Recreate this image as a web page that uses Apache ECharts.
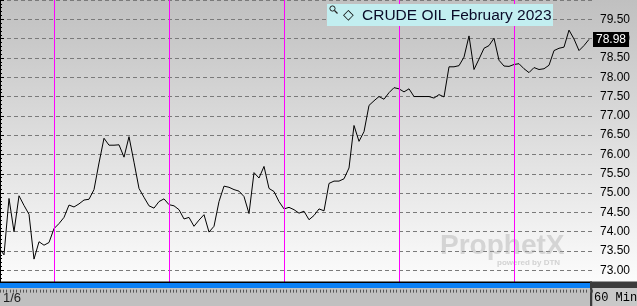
<!DOCTYPE html>
<html>
<head>
<meta charset="utf-8">
<script src="https://cdn.jsdelivr.net/npm/echarts@6/dist/echarts.min.js"></script>
<style>
html,body{margin:0;padding:0;background:#fff;}
#chart{width:637px;height:306px;}
</style>
</head>
<body>
<div id="chart"></div>
<script>
// 60-minute closes, CRUDE OIL February 2023
var prices = [
  73.58, 73.40, 74.86, 74.00, 74.93, 74.68, 74.45, 73.29, 73.74, 73.65,
  73.72, 74.08, 74.21, 74.37, 74.69, 74.64, 74.72, 74.82, 74.84, 75.09,
  75.78, 76.42, 76.24, 76.24, 76.25, 75.93, 76.46, 75.80, 75.12, 74.89,
  74.67, 74.61, 74.78, 74.85, 74.70, 74.67, 74.57, 74.33, 74.37, 74.14,
  74.30, 74.44, 73.99, 74.14, 74.78, 75.18, 75.15, 75.09, 75.05, 74.91,
  74.47, 75.53, 75.39, 75.69, 75.12, 75.04, 74.78, 74.59, 74.63, 74.57,
  74.48, 74.53, 74.31, 74.42, 74.59, 74.54, 75.25, 75.31, 75.31, 75.37,
  75.65, 76.75, 76.34, 76.59, 77.27, 77.39, 77.50, 77.43, 77.60, 77.73,
  77.70, 77.62, 77.70, 77.50, 77.50, 77.50, 77.50, 77.46, 77.55, 77.49,
  78.27, 78.27, 78.30, 78.52, 79.07, 78.20, 78.47, 78.75, 78.82, 79.01,
  78.44, 78.29, 78.28, 78.33, 78.35, 78.22, 78.12, 78.25, 78.20, 78.22,
  78.31, 78.69, 78.75, 78.78, 79.22, 78.99, 78.69, 78.82, 78.98
];
// bar indexes where session separators are drawn
var sessionBreaks = [11, 34, 57, 80, 103];
// price axis range and step
var priceMin = 72.5, priceMax = 80.0, priceStep = 0.5;
var titleText = 'CRUDE OIL February 2023';
var dateLabel = '1/6';
var periodLabel = '60 Min';

var lastPrice = prices[prices.length - 1];
var seriesData = prices.map(function (v, i) { return [i, v]; });

var markData = sessionBreaks.map(function (b) { return {xAxis: b}; });
markData.push({
  yAxis: lastPrice,
  lineStyle: {color: 'rgba(0,0,0,0)', width: 0, opacity: 1},
  label: {
    show: true, position: 'end', distance: 1, opacity: 1,
    backgroundColor: '#000000', color: '#ffffff',
    fontSize: 12, fontFamily: 'Liberation Sans, Arial, sans-serif',
    padding: [2, 3, 1, 3],
    formatter: function () { return lastPrice.toFixed(2); }
  }
});

var chart = echarts.init(document.getElementById('chart'), null, {renderer: 'canvas'});
var option = {
  animation: false,
  backgroundColor: {
    type: 'linear', x: 0, y: 0, x2: 0, y2: 1,
    colorStops: [
      {offset: 0, color: '#c0c0c0'},
      {offset: 0.92, color: '#fcfcfc'},
      {offset: 1, color: '#ffffff'}
    ]
  },
  grid: {left: 0, right: 45, top: -4.615, bottom: 16.385, containLabel: false},
  xAxis: [
    {
      type: 'value', min: 0.2, max: 118.6, show: false
    },
    {
      type: 'value', min: 0, max: 177.6, interval: 1, position: 'bottom', z: 60,
      axisLine: {show: false},
      axisTick: {show: true, length: 3, lineStyle: {color: '#555555', width: 1}},
      axisLabel: {show: false},
      splitLine: {show: false}
    }
  ],
  yAxis: {
    type: 'value', position: 'right', min: priceMin, max: priceMax, interval: priceStep,
    axisLine: {show: true, lineStyle: {color: '#000000', width: 1}},
    axisTick: {show: true, length: 4, lineStyle: {color: '#000000'}},
    minorTick: {show: true, splitNumber: 5, length: 2, lineStyle: {color: '#000000'}},
    axisLabel: {
      show: true, margin: 8, color: '#000000', fontSize: 12,
      fontFamily: 'Liberation Sans, Arial, sans-serif',
      showMinLabel: false, showMaxLabel: false,
      formatter: function (v) { return v.toFixed(2); }
    },
    splitLine: {show: true, lineStyle: {color: '#7a7a7a', width: 1, type: [4, 3]}}
  },
  series: [{
    type: 'line',
    xAxisIndex: 0,
    data: seriesData,
    showSymbol: false,
    clip: true,
    z: 3,
    lineStyle: {color: '#000000', width: 1},
    markLine: {
      silent: true,
      symbol: 'none',
      animation: false,
      lineStyle: {color: '#ff00ff', width: 1, type: 'solid'},
      label: {show: false},
      data: markData
    }
  }],
  graphic: [
    // bottom strip
    {type: 'rect', z: 50, shape: {x: 0, y: 288, width: 637, height: 18}, style: {fill: '#c0c0c0'}},
    {type: 'rect', z: 51, shape: {x: 0, y: 281.5, width: 592, height: 1.5}, style: {fill: '#000000'}},
    {type: 'rect', z: 51, shape: {x: 0, y: 283, width: 592, height: 5}, style: {fill: '#0a80f5'}},
    {type: 'rect', z: 51, shape: {x: 590, y: 281.5, width: 47, height: 6.5}, style: {fill: '#3c3c3c'}},
    {type: 'rect', z: 51, shape: {x: 590, y: 287, width: 2.5, height: 19}, style: {fill: '#3c3c3c'}},
    {type: 'rect', z: 51, shape: {x: 592.5, y: 288, width: 44.5, height: 18}, style: {fill: '#c8c8c8'}},
    {type: 'text', z: 52, x: 3, y: 298, style: {text: dateLabel, fill: '#1e1e1e', fontSize: 13,
      fontFamily: 'Liberation Sans, Arial, sans-serif', verticalAlign: 'middle', textAlign: 'left'}},
    {type: 'text', z: 52, x: 594, y: 298, style: {text: periodLabel, fill: '#000000', fontSize: 12,
      fontFamily: 'Liberation Mono, DejaVu Sans Mono, monospace', verticalAlign: 'middle', textAlign: 'left'}},
    // watermark
    {type: 'text', z: 1, x: 440, y: 246, style: {text: 'ProphetX', fill: 'rgba(165,165,165,0.4)', fontSize: 28,
      fontWeight: 'bold', fontFamily: 'Liberation Sans, Arial, sans-serif', verticalAlign: 'middle', textAlign: 'left'}},
    {type: 'text', z: 1, x: 497, y: 263, style: {text: 'powered by DTN', fill: 'rgba(165,165,165,0.45)', fontSize: 8,
      fontWeight: 'bold', fontFamily: 'Liberation Sans, Arial, sans-serif', verticalAlign: 'middle', textAlign: 'left'}},
    // title box
    {type: 'rect', z: 55, shape: {x: 327, y: 4, width: 226, height: 22}, style: {fill: '#c2eef0'}},
    {type: 'circle', z: 56, shape: {cx: 332.5, cy: 8.5, r: 2.6}, style: {fill: 'none', stroke: '#222', lineWidth: 1}},
    {type: 'line', z: 56, shape: {x1: 334.5, y1: 10.5, x2: 337.5, y2: 13.5}, style: {stroke: '#222', lineWidth: 1.2}},
    {type: 'text', z: 56, x: 343, y: 15.5, style: {text: '\u25C7', fill: '#000000', fontSize: 14,
      fontFamily: 'DejaVu Sans, sans-serif', verticalAlign: 'middle', textAlign: 'left'}},
    {type: 'text', z: 56, x: 362, y: 15.5, style: {text: titleText, fill: '#0a0a28', fontSize: 15.5,
      fontFamily: 'Liberation Sans, Arial, sans-serif', verticalAlign: 'middle', textAlign: 'left'}}
  ]
};
chart.setOption(option);
</script>
</body>
</html>
